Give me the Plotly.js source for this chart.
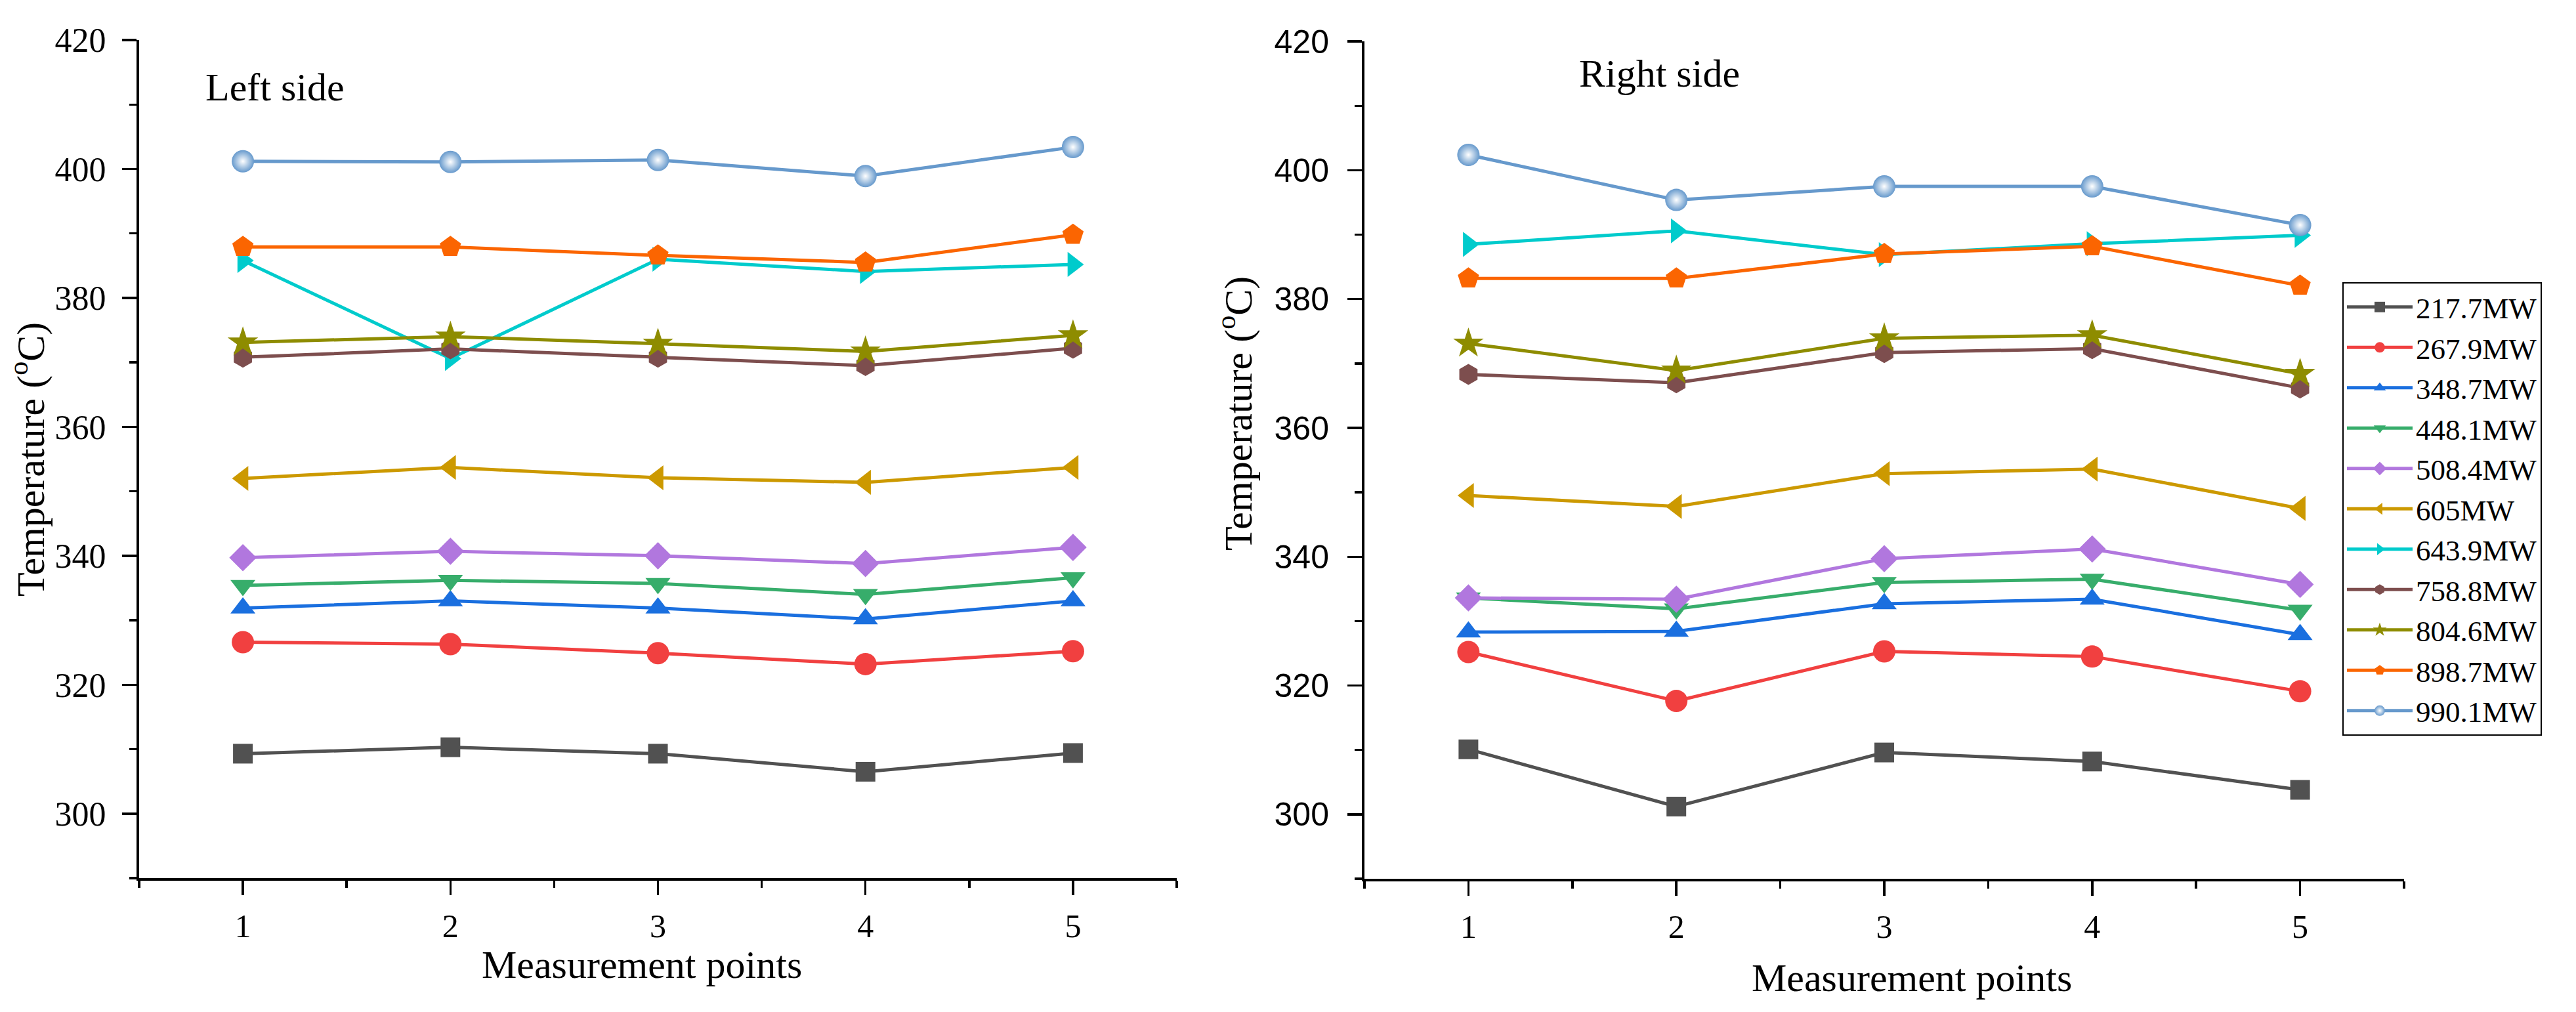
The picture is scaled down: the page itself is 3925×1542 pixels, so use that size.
<!DOCTYPE html>
<html>
<head>
<meta charset="utf-8">
<script src="https://cdn.plot.ly/plotly-3.0.1.min.js"></script>
<style>html,body{margin:0;padding:0;background:#fff;}#chart{width:3925px;height:1542px;}</style>
</head>
<body>
<div id="chart"></div>
<script>
// ---- data ----
const points = [1, 2, 3, 4, 5];
const xTickLabels = ['1', '2', '3', '4', '5'];
const seriesNames = ['217.7MW', '267.9MW', '348.7MW', '448.1MW', '508.4MW', '605MW',
                     '643.9MW', '758.8MW', '804.6MW', '898.7MW', '990.1MW'];

// Left side
const left_217_7 = [309.3, 310.3, 309.3, 306.5, 309.4];
const left_267_9 = [326.6, 326.3, 324.9, 323.2, 325.2];
const left_348_7 = [331.9, 333.0, 331.9, 330.2, 333.0];
const left_448_1 = [335.4, 336.2, 335.7, 334.0, 336.6];
const left_508_4 = [339.7, 340.7, 340.0, 338.8, 341.3];
const left_605   = [352.0, 353.7, 352.1, 351.4, 353.7];
const left_643_9 = [385.8, 370.6, 386.0, 384.1, 385.2];
const left_758_8 = [370.8, 372.1, 370.8, 369.5, 372.2];
const left_804_6 = [373.1, 374.0, 372.9, 371.7, 374.2];
const left_898_7 = [387.9, 387.9, 386.6, 385.5, 389.8];
const left_990_1 = [401.2, 401.1, 401.4, 398.9, 403.4];

// Right side
const right_217_7 = [310.1, 301.2, 309.6, 308.2, 303.8];
const right_267_9 = [325.2, 317.6, 325.3, 324.5, 319.1];
const right_348_7 = [328.3, 328.4, 332.7, 333.4, 327.9];
const right_448_1 = [333.6, 331.9, 336.0, 336.5, 331.7];
const right_508_4 = [333.6, 333.4, 339.7, 341.2, 335.7];
const right_605   = [349.5, 347.8, 352.9, 353.6, 347.5];
const right_643_9 = [388.5, 390.6, 386.9, 388.6, 389.9];
const right_758_8 = [368.3, 367.0, 371.7, 372.3, 366.2];
const right_804_6 = [373.1, 368.9, 373.9, 374.4, 368.4];
const right_898_7 = [383.2, 383.2, 387.0, 388.2, 382.1];
const right_990_1 = [402.4, 395.4, 397.5, 397.5, 391.5];

const leftSeries = [left_217_7, left_267_9, left_348_7, left_448_1, left_508_4, left_605,
                    left_643_9, left_758_8, left_804_6, left_898_7, left_990_1];
const rightSeries = [right_217_7, right_267_9, right_348_7, right_448_1, right_508_4, right_605,
                     right_643_9, right_758_8, right_804_6, right_898_7, right_990_1];

// ---- styles ----
const colors = ['#515151', '#F14040', '#1A6FDF', '#37AD6B', '#B177DE', '#CC9900',
                '#00CBCC', '#7D4E4E', '#8E8C00', '#FB6501', '#6699CC'];
const symbols = ['square', 'circle', 'triangle-up', 'triangle-down', 'diamond', 'triangle-left',
                 'triangle-right', 'hexagon', 'star', 'pentagon', 'circle'];
const sizes = [30, 34, 33, 33, 32, 33, 33, 32, 35, 34, 34];

const serif = 'Liberation Serif, Times New Roman, serif';
const sans = 'Liberation Sans, Arial, sans-serif';

function makeTrace(vals, i, xa, ya, show) {
  const marker = {symbol: symbols[i], size: sizes[i], color: colors[i], line: {width: 0}};
  if (i === 10) marker.gradient = {type: 'radial', color: '#ffffff'};
  return {
    x: points, y: vals, xaxis: xa, yaxis: ya, type: 'scatter', mode: 'lines+markers',
    name: seriesNames[i], legendgroup: seriesNames[i], showlegend: show,
    line: {color: colors[i], width: 5}, marker: marker
  };
}

const traces = [];
rightSeries.forEach((v, i) => traces.push(makeTrace(v, i, 'x2', 'y2', true)));
leftSeries.forEach((v, i) => traces.push(makeTrace(v, i, 'x', 'y', false)));

const xCommon = {
  range: [0.5, 5.5], tickvals: points, ticktext: xTickLabels,
  showline: true, linecolor: '#000', linewidth: 4, mirror: false,
  ticks: 'outside', ticklen: 22, tickwidth: 3.5, tickcolor: '#000',
  minor: {ticks: 'outside', ticklen: 11, tickwidth: 3.5, tickcolor: '#000', tick0: 0.5, dtick: 0.5},
  showgrid: false, zeroline: false, fixedrange: true,
  tickfont: {family: serif, size: 50, color: '#000'},
  ticklabelstandoff: 4
};
const yCommon = {
  range: [290, 420], tick0: 300, dtick: 20,
  showline: true, linecolor: '#000', linewidth: 4,
  ticks: 'outside', ticklen: 22, tickwidth: 3.5, tickcolor: '#000',
  minor: {ticks: 'outside', ticklen: 11, tickwidth: 3.5, tickcolor: '#000', tick0: 290, dtick: 10},
  showgrid: false, zeroline: false, fixedrange: true
};

const layout = {
  width: 3925, height: 1542,
  paper_bgcolor: '#fff', plot_bgcolor: '#fff',
  margin: {l: 0, r: 0, t: 0, b: 0},
  showlegend: true,
  xaxis: Object.assign({}, xCommon, {domain: [0.05401, 0.45682], anchor: 'y'}),
  xaxis2: Object.assign({}, xCommon, {domain: [0.52968, 0.93325], anchor: 'y2'}),
  yaxis: Object.assign({}, yCommon, {domain: [0.1323, 0.9604], anchor: 'x',
    tickfont: {family: serif, size: 52, color: '#000'}, ticklabelstandoff: 14}),
  yaxis2: Object.assign({}, yCommon, {domain: [0.1317, 0.9590], anchor: 'x2',
    tickfont: {family: sans, size: 50, color: '#000'}, ticklabelstandoff: 18}),
  legend: {
    x: 0.9093, y: 0.7211, xanchor: 'left', yanchor: 'top',
    bgcolor: '#fff', bordercolor: '#000', borderwidth: 2,
    font: {family: serif, size: 45, color: '#000'},
    itemwidth: 100, tracegroupgap: 0, traceorder: 'normal'
  },
  annotations: [
    {text: 'Left side', xref: 'paper', yref: 'paper', x: 0.0792, y: 0.9137,
     xanchor: 'left', yanchor: 'middle', showarrow: false,
     font: {family: serif, size: 60, color: '#000'}},
    {text: 'Right side', xref: 'paper', yref: 'paper', x: 0.6125, y: 0.9276,
     xanchor: 'left', yanchor: 'middle', showarrow: false,
     font: {family: serif, size: 60, color: '#000'}},
    {text: 'Temperature (<sup>o</sup>C)', xref: 'paper', yref: 'paper', x: 0.0107, y: 0.5460,
     xanchor: 'center', yanchor: 'middle', textangle: -90, showarrow: false,
     font: {family: serif, size: 60, color: '#000'}},
    {text: 'Temperature (<sup>o</sup>C)', xref: 'paper', yref: 'paper', x: 0.4795, y: 0.5914,
     xanchor: 'center', yanchor: 'middle', textangle: -90, showarrow: false,
     font: {family: serif, size: 60, color: '#000'}},
    {text: 'Measurement points', xref: 'paper', yref: 'paper', x: 978 / 3925, y: 0.0470,
     xanchor: 'center', yanchor: 'middle', showarrow: false,
     font: {family: serif, size: 60, color: '#000'}},
    {text: 'Measurement points', xref: 'paper', yref: 'paper', x: 2913 / 3925, y: 0.0340,
     xanchor: 'center', yanchor: 'middle', showarrow: false,
     font: {family: serif, size: 60, color: '#000'}}
  ]
};

Plotly.newPlot('chart', traces, layout, {displayModeBar: false, staticPlot: true});
</script>
</body>
</html>
